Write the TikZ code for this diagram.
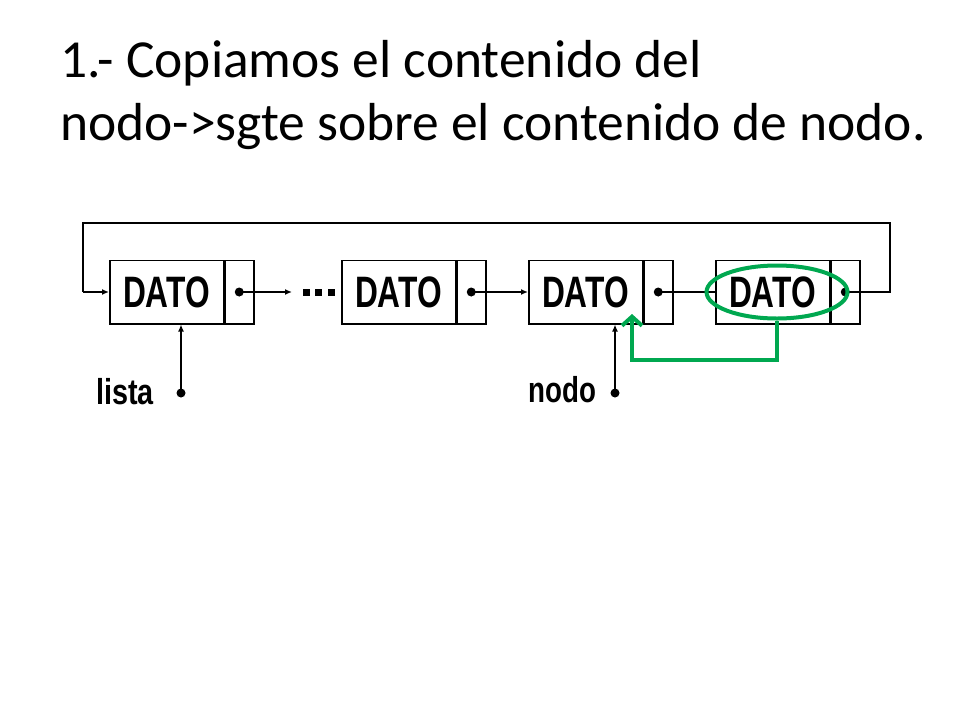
\documentclass[tikz,border=0pt]{standalone}
\usepackage{fontspec}
\setmainfont{Liberation Sans}
\newfontfamily\titlefont{Carlito}
\usetikzlibrary{arrows.meta,shapes.geometric}
\definecolor{hlgreen}{RGB}{0,168,80}
\begin{document}
\begin{tikzpicture}[x=1pt,y=-1pt,
  datacell/.style={draw, line width=1.5pt, minimum width=113.5pt, minimum height=63.5pt, inner sep=0pt, anchor=west,
     font=\bfseries\fontsize{44}{44}\selectfont},
  ptrcell/.style={draw, line width=1.5pt, minimum width=29pt, minimum height=63.5pt, inner sep=0pt, anchor=west},
  conn/.style={line width=1.5pt},
  arr/.style={conn, -{Latex[length=7pt,width=6pt]}},
  lbl/.style={font=\bfseries\fontsize{36}{36}\selectfont, anchor=base west, inner sep=0pt},
  ttl/.style={font=\titlefont\fontsize{53.5}{60}\selectfont, anchor=base west, inner sep=0pt},
  hl/.style={draw=hlgreen, line width=4pt}
]
\useasboundingbox (0,0) rectangle (960,720);
% title
\node[ttl] (t1) at (60,77) {1.- Copiamos el contenido del};
\node[ttl] (t2) at (60,140) {nodo->sgte sobre el contenido de nodo.};
% cells
\node[datacell] (d1) at (109,292) {\scalebox{0.72}[1]{DATO}};
\node[ptrcell] (p1) at (d1.east) {};
\node[datacell] (d2) at (341,292) {\scalebox{0.72}[1]{DATO}};
\node[ptrcell] (p2) at (d2.east) {};
\node[datacell] (d3) at (528,292) {\scalebox{0.72}[1]{DATO}};
\node[ptrcell] (p3) at (d3.east) {};
\node[datacell] (d4) at (715,292) {\scalebox{0.72}[1]{DATO}};
\node[ptrcell] (p4) at (d4.east) {};
% pointer dots
\foreach \p in {p1,p2,p3,p4} \fill (\p.center) circle (4.5pt);
% links
\coordinate (e1) at (292,292);
\draw[arr] (p1.center) -- (e1);
\foreach \x in {306,318,331} \fill (\x-3.5,288.5) rectangle (\x+3.5,295.5);
\draw[arr] (p2.center) -- (d3.west);
\draw[conn] (p3.center) -- (d4.west);
\coordinate (r1) at (890,292);
\coordinate (r2) at (890,223);
\coordinate (l2) at (83,223);
\coordinate (l1) at (83,292);
\draw[conn] (p4.center) -- (r1) -- (r2) -- (l2) -- (l1);
\draw[arr] (l1) -- (d1.west);
% external pointers
\node[lbl] (lista) at (96,404) {\scalebox{0.8}[1]{lista}};
\coordinate (ld) at (181,393);
\fill (ld) circle (4.5pt);
\draw[arr] (ld) -- (ld |- d1.south);
\node[lbl] (nodo) at (528,402) {\scalebox{0.77}[1]{nodo}};
\coordinate (nd) at (615,393);
\fill (nd) circle (4.5pt);
\draw[arr] (nd) -- (nd |- d3.south);
% green highlight
\node[hl, ellipse, minimum width=141pt, minimum height=53pt, inner sep=0pt] (ell) at (777,292) {};
\coordinate (g1) at (777,360);
\coordinate (g2) at (632,360);
\coordinate (g3) at (632,314);
\draw[hl, line cap=butt, -{Straight Barb[length=9pt,width=20pt,line width=4pt]}] (ell.south) -- (g1) -- (g2) -- (g3);
\end{tikzpicture}
\end{document}
